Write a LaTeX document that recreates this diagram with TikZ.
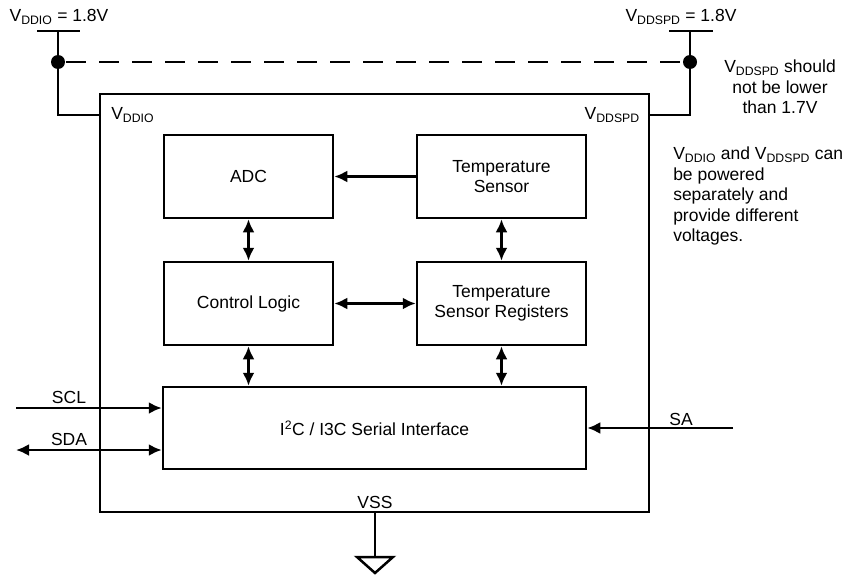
\documentclass[tikz,border=0pt]{standalone}
\usepackage{fontspec}
\setmainfont{Liberation Sans}
\usetikzlibrary{arrows.meta}

\begin{document}
\begin{tikzpicture}[x=1pt,y=-1pt,line width=2.5pt,font=\fontsize{17.5}{20.5}\selectfont,>={Latex[length=13pt,width=12pt]}]
      \useasboundingbox (0,0) rectangle (846,575);
      \begin{scope}
        \tikzstyle{blk} = [draw=black, rectangle, inner sep=2pt, align=center, minimum width=169pt, minimum height=83pt]
        \tikzstyle{dot} = [fill=black, circle, inner sep=0pt, minimum size=14pt]
        \tikzstyle{lbl} = [inner sep=0pt, align=center]
        % chip outline and blocks
        \node[draw=black, rectangle, inner sep=0pt, minimum width=549pt, minimum height=418pt] (chip) at (374.5,303) {};
        \node[blk] (adc) at (248.5,176.5) {ADC};
        \node[blk] (ts) at (501.5,176.5) {Temperature\\Sensor};
        \node[blk] (cl) at (248.5,303.5) {Control Logic};
        \node[blk] (tsr) at (501.5,303.5) {Temperature\\Sensor Registers};
        \node[blk, minimum width=423pt, minimum height=82pt] (i2c) at (374.5,428) {I\textsuperscript{2}C / I3C Serial Interface};
        \draw[->] (ts) -- (adc);
        \draw[<->] (adc) -- (cl);
        \draw[<->] (ts) -- (tsr);
        \draw[<->] (cl) -- (tsr);
        \draw[<->] (cl.south) -- (cl.south |- i2c.north);
        \draw[<->] (tsr.south) -- (tsr.south |- i2c.north);
        % supplies
        \coordinate (vio) at (58,31);
        \coordinate (pio) at (100,115);
        \coordinate (vspd) at (690,31);
        \coordinate (pspd) at (649,115);
        \draw ([xshift=-21pt]vio) -- ([xshift=22pt]vio);
        \draw ([xshift=-21pt]vspd) -- ([xshift=23pt]vspd);
        \draw (vio) |- (pio);
        \draw (vspd) |- (pspd);
        \node[dot] (jio) at (58,62) {};
        \node[dot] (jspd) at (690,62) {};
        \draw[dash pattern=on 20pt off 13pt] (jio) -- (jspd);
        \node[lbl] (vddiotop) at (59,17) {V\textsubscript{DDIO} = 1.8V};
        \node[lbl] (vddspdtop) at (681,17) {V\textsubscript{DDSPD} = 1.8V};
        \node[lbl, anchor=west] (vddioin) at (110,115) {V\textsubscript{DDIO}};
        \node[lbl, anchor=east] (vddspdin) at (641,115) {V\textsubscript{DDSPD}};
        \node[lbl] (note1) at (780,87) {V\textsubscript{DDSPD} should\\not be lower\\than 1.7V};
        \node[lbl, anchor=west, align=left] (note2) at (672,196) {V\textsubscript{DDIO} and V\textsubscript{DDSPD} can\\be powered\\separately and\\provide different\\voltages.};
        % bus signals
        \coordinate (sclin) at (16,408);
        \coordinate (sdaout) at (16,450);
        \coordinate (sain) at (733,428);
        \draw[->] (sclin) -- (sclin -| i2c.west);
        \draw[<->] (sdaout) -- (sdaout -| i2c.west);
        \draw[->] (sain) -- (sain -| i2c.east);
        \node[lbl] (scl) at (69,397) {SCL};
        \node[lbl] (sda) at (69,439) {SDA};
        \node[lbl] (sa) at (681,419) {SA};
        % ground
        \coordinate (gnd) at (375,557);
        \node[lbl] (vss) at (375,502) {VSS};
        \draw (chip.south -| gnd) -- (gnd);
        \draw[line join=miter] ([xshift=-18pt]gnd) -- ([xshift=18pt]gnd) -- ([yshift=-16pt]gnd) -- cycle;
      \end{scope}
    \end{tikzpicture}
\end{document}
